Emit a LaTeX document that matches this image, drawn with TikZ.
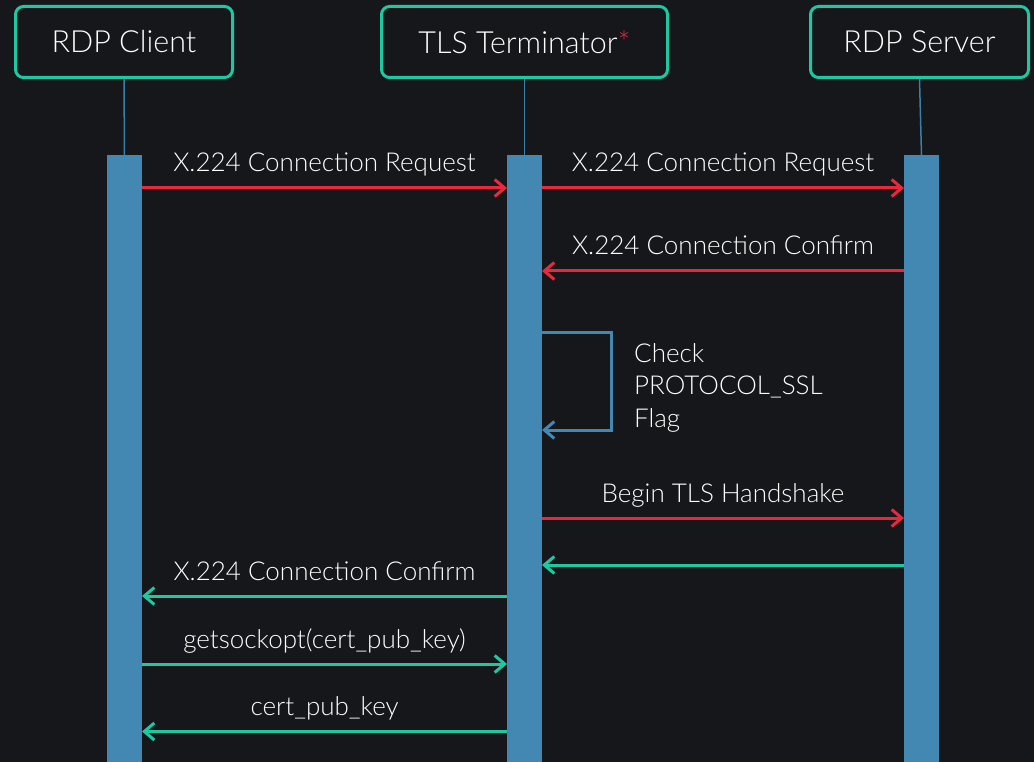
\documentclass[tikz,border=0pt]{standalone}
\usepackage{fontspec}
\setmainfont{Lato}[UprightFont=* Light]
\usetikzlibrary{arrows.meta}
\definecolor{bgdark}{HTML}{16171B}
\definecolor{tealc}{HTML}{1DC9A3}
\definecolor{barblue}{HTML}{4388B3}
\definecolor{lineblue}{HTML}{3A7FA8}
\definecolor{redc}{HTML}{E9283E}
\begin{document}
\begin{tikzpicture}[x=1pt,y=1pt,
  actor/.style={draw=tealc, line width=3pt, rounded corners=8pt, fill=bgdark,
    minimum height=71pt, text=white, inner sep=0pt,
    font=\fontsize{30.5}{36}\selectfont},
  actbar/.style={fill=barblue, draw=none, minimum width=35pt, minimum height=607pt,
    anchor=north, inner sep=0pt, outer sep=0pt},
  life/.style={draw=lineblue, line width=1.5pt},
  tip/.style={-{Straight Barb[length=10pt,width=17pt]}},
  msgred/.style={draw=redc, line width=3pt, tip},
  msgteal/.style={draw=tealc, line width=3pt, tip},
  selfmsg/.style={draw=barblue, line width=3pt, tip},
  lbl/.style={text=white, anchor=base, inner sep=0pt, yshift=16pt,
    font=\fontsize{26}{30}\selectfont},
]
% canvas
\fill[bgdark] (0,0) rectangle (1034,-762);
\useasboundingbox (0,0) rectangle (1034,-762);

% participants
\node[actor, minimum width=217pt] (client) at (124,-42) {RDP Client};
\node[actor, minimum width=286pt] (tls) at (524.5,-42) {TLS Terminator{\color{redc}*}};
\node[actor, minimum width=218pt] (server) at (919.5,-42) {RDP Server};

% activation bars
\node[actbar] (cbar) at (124.5,-155) {};
\node[actbar] (tbar) at (524.5,-155) {};
\node[actbar] (sbar) at (921.5,-155) {};

% lifelines
\draw[life] (client.south) -- (cbar.north);
\draw[life] (tls.south) -- (tbar.north);
\draw[life] (server.south) -- (sbar.north);

% messages
\draw[msgred] ([yshift=-33pt]cbar.north east) -- ([yshift=-33pt]tbar.north west)
  node[lbl, midway] {X.224 Connection Request};
\draw[msgred] ([yshift=-33pt]tbar.north east) -- ([yshift=-33pt]sbar.north west)
  node[lbl, midway] {X.224 Connection Request};
\draw[msgred] ([yshift=-116pt]sbar.north west) -- ([yshift=-116pt]tbar.north east)
  node[lbl, midway] {X.224 Connection Confirm};

% self check on the terminator
\draw[selfmsg] ([yshift=-177pt]tbar.north east) -- ++(69,0) |- ([yshift=-275pt]tbar.north east);
\node[text=white, anchor=north west, inner sep=0pt, align=left,
  font=\fontsize{26}{32.5}\selectfont] (check) at (634,-343)
  {Check\\PROTOCOL\_SSL\\Flag};

\draw[msgred] ([yshift=-363pt]tbar.north east) -- ([yshift=-363pt]sbar.north west)
  node[lbl, midway] {Begin TLS Handshake};
\draw[msgteal] ([yshift=-410pt]sbar.north west) -- ([yshift=-410pt]tbar.north east);
\draw[msgteal] ([yshift=-441pt]tbar.north west) -- ([yshift=-441pt]cbar.north east)
  node[lbl, midway] {X.224 Connection Confirm};
\draw[msgteal] ([yshift=-509pt]cbar.north east) -- ([yshift=-509pt]tbar.north west)
  node[lbl, midway] {getsockopt(cert\_pub\_key)};
\draw[msgteal] ([yshift=-576.5pt]tbar.north west) -- ([yshift=-576.5pt]cbar.north east)
  node[lbl, midway] {cert\_pub\_key};
\end{tikzpicture}
\end{document}
